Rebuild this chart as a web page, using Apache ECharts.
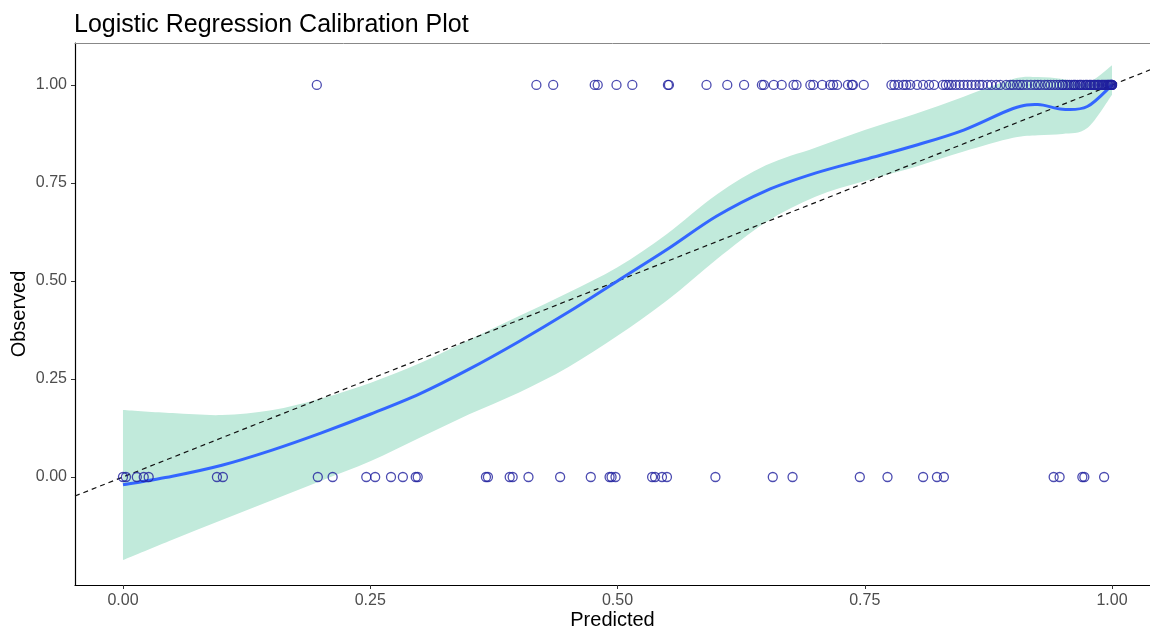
<!DOCTYPE html>
<html>
<head>
<meta charset="utf-8">
<script src="https://cdn.jsdelivr.net/npm/echarts@6/dist/echarts.min.js"></script>
<style>
html,body{margin:0;padding:0;background:#fff;}
#chart{width:1150px;height:629px;}
</style>
</head>
<body>
<div id="chart"></div>
<script>
// Observed = 1 points (predicted probabilities)
const predictedOne = [0.196,0.418,0.435,0.477,0.480,0.499,0.515,0.551,0.552,0.590,0.611,0.628,0.646,0.648,0.658,0.666,
  0.678,0.681,0.695,0.698,0.707,0.715,0.718,0.722,0.733,0.737,0.738,0.749,
  0.777,0.780,0.784,0.789,0.792,0.796,0.803,0.809,0.815,0.820,
  0.829,0.832,0.835,0.838,0.842,0.846,0.850,0.854,0.858,0.862,0.866,0.869,0.874,0.878,0.883,0.887,
  0.893,0.897,0.900,0.904,0.907,0.910,0.914,0.918,0.922,0.925,0.928,0.932,0.935,0.938,0.941,0.944,
  0.947,0.950,0.953,0.957,0.959,0.961,0.963,0.965,0.967,0.969,0.971,0.973,0.975,0.977,0.979,0.981,
  0.983,0.985,0.987,0.989,0.991,0.993,0.995,0.996,0.997,0.998,0.999,1.000,
  0.950,0.955,0.962,0.968,0.974,0.978,0.982,0.986,0.990,0.992,0.994,0.996,0.998,0.999,1.000,1.000];
// Observed = 0 points
const predictedZero = [0.000,0.003,0.014,0.021,0.026,0.095,0.101,0.197,0.212,0.246,0.255,0.271,0.283,0.296,0.298,
  0.367,0.369,0.391,0.394,0.410,0.442,0.473,0.492,0.494,0.498,0.535,0.538,0.545,0.550,0.599,0.657,0.677,
  0.745,0.773,0.809,0.823,0.830,0.941,0.947,0.970,0.972,0.992];
// Loess smooth with confidence band
const smoothX = [0,0.05,0.1,0.15,0.2,0.25,0.3,0.35,0.4,0.45,0.5,0.55,0.6,0.65,0.7,0.75,0.8,0.85,0.9,0.925,0.95,0.975,1.0];
const smoothY = [-0.02,0.002,0.03,0.068,0.112,0.16,0.212,0.275,0.345,0.42,0.50,0.58,0.665,0.73,0.775,0.81,0.845,0.885,0.94,0.95,0.938,0.945,1.0];
const upperY  = [0.171,0.163,0.158,0.17,0.20,0.24,0.29,0.35,0.41,0.47,0.535,0.62,0.72,0.795,0.84,0.885,0.925,0.97,1.015,1.02,1.015,1.005,1.05];
const lowerY  = [-0.212,-0.16,-0.11,-0.06,-0.01,0.04,0.10,0.16,0.215,0.28,0.36,0.45,0.555,0.65,0.715,0.755,0.79,0.83,0.865,0.872,0.875,0.89,0.975];
const tickValues = [0,0.25,0.5,0.75,1.0];
const xRange = [-0.0485, 1.0384];
const yRange = [-0.2755, 1.107];

const chart = echarts.init(document.getElementById('chart'), null, {renderer:'canvas'});
const font = 'Liberation Sans, Arial, sans-serif';

// Catmull-Rom spline through pixel points -> path segments (rendering only)
function splineSegs(p){
  let d = '';
  for(let i=0;i<p.length-1;i++){
    const p0=p[Math.max(i-1,0)], p1=p[i], p2=p[i+1], p3=p[Math.min(i+2,p.length-1)];
    const c1=[p1[0]+(p2[0]-p0[0])/6, p1[1]+(p2[1]-p0[1])/6];
    const c2=[p2[0]-(p3[0]-p1[0])/6, p2[1]-(p3[1]-p1[1])/6];
    d += ' C'+c1[0]+','+c1[1]+' '+c2[0]+','+c2[1]+' '+p2[0]+','+p2[1];
  }
  return d;
}

chart.setOption({
  animation:false,
  backgroundColor:'#fff',
  title:{text:'Logistic Regression Calibration Plot',left:69,top:8,
    textStyle:{fontFamily:font,fontSize:25,fontWeight:'normal',color:'#000'}},
  grid:{left:75,right:0,top:43,bottom:44,containLabel:false,outerBoundsMode:'none'},
  xAxis:[{type:'value',min:xRange[0],max:xRange[1],
    name:'Predicted',nameLocation:'middle',nameGap:25,nameMoveOverlap:false,
    nameTextStyle:{fontFamily:font,fontSize:20,color:'#000'},
    splitLine:{show:false},
    axisLine:{show:true,onZero:false,lineStyle:{color:'#000',width:1.2}},
    axisTick:{show:true,length:4,customValues:tickValues,lineStyle:{color:'#333'}},
    axisLabel:{customValues:tickValues,margin:8,fontFamily:font,fontSize:16,color:'#4d4d4d',
      formatter:v=>v.toFixed(2)}},
   {type:'value',position:'top',min:xRange[0],max:xRange[1],
    splitLine:{show:false},axisLine:{show:true,onZero:false,lineStyle:{color:'#888',width:1}},
    axisTick:{show:false},axisLabel:{show:false}}],
  yAxis:{type:'value',min:yRange[0],max:yRange[1],
    name:'Observed',nameLocation:'middle',nameGap:46,nameRotate:90,nameMoveOverlap:false,
    nameTextStyle:{fontFamily:font,fontSize:20,color:'#000'},
    splitLine:{show:false},
    axisLine:{show:true,onZero:false,lineStyle:{color:'#000',width:1.2}},
    axisTick:{show:true,length:4,customValues:tickValues,lineStyle:{color:'#333'}},
    axisLabel:{customValues:tickValues,margin:8,fontFamily:font,fontSize:16,color:'#4d4d4d',
      formatter:v=>v.toFixed(2)}},
  series:[
    {type:'custom',z:1,silent:true,data:[0],
      renderItem:function(params,api){
        const up = smoothX.map((x,i)=>api.coord([x,upperY[i]]));
        const lo = smoothX.map((x,i)=>api.coord([x,lowerY[i]])).reverse();
        const d = 'M'+up[0][0]+','+up[0][1]+splineSegs(up)+' L'+lo[0][0]+','+lo[0][1]+splineSegs(lo)+' Z';
        return {type:'path',shape:{pathData:d},style:{fill:'#c1eadb',stroke:null}};
      }},
    {type:'line',z:2,data:[[xRange[0],xRange[0]],[xRange[1],xRange[1]]],showSymbol:false,silent:true,
      lineStyle:{color:'#111',width:1.2,type:[5,4]}},
    {type:'custom',z:3,silent:true,data:[0],
      renderItem:function(params,api){
        const pts = smoothX.map((x,i)=>api.coord([x,smoothY[i]]));
        const d = 'M'+pts[0][0]+','+pts[0][1]+splineSegs(pts);
        return {type:'path',shape:{pathData:d},style:{fill:null,stroke:'#3366ff',lineWidth:3}};
      }},
    {type:'scatter',z:4,symbol:'circle',symbolSize:9,
      data:predictedOne.map(x=>[x,1]).concat(predictedZero.map(x=>[x,0])),
      itemStyle:{color:'rgba(0,0,0,0)',borderColor:'#1f1f9e',borderWidth:1.3}}
  ]
});
</script>
</body>
</html>
